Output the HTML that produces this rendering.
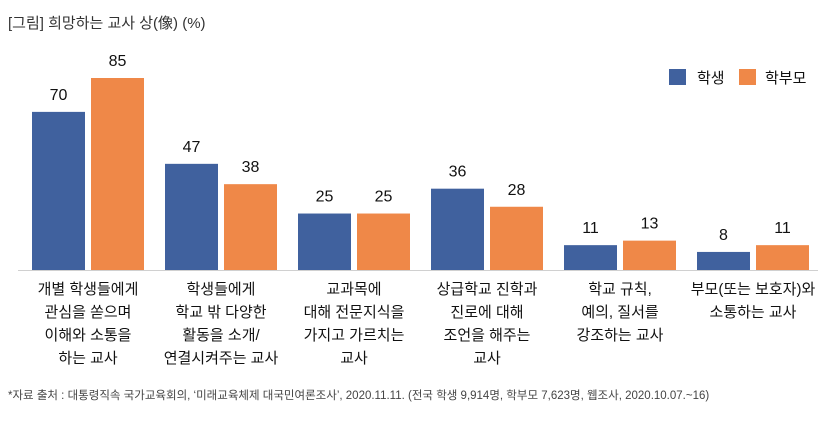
<!DOCTYPE html>
<html><head><meta charset="utf-8"><style>
body{margin:0;background:#fff;width:835px;height:419px;overflow:hidden;font-family:"Liberation Sans","Noto Sans CJK KR",sans-serif;}
svg text{font-family:"Liberation Sans","Noto Sans CJK KR",sans-serif;}
</style></head><body>
<svg width="835" height="419">
<text x="8" y="28" font-size="15" fill="#333">[그림] 희망하는 교사 상(像) (%)</text>
<g>
<rect x="669" y="69" width="17" height="16" fill="#40619e"/>
<text x="697" y="83" font-size="15" fill="#111">학생</text>
<rect x="739" y="69" width="17" height="16" fill="#ef8848"/>
<text x="765" y="83" font-size="15" fill="#111">학부모</text>
</g>
<line x1="18" y1="270.5" x2="818" y2="270.5" stroke="#d0d0d0"/>
<g id="bars"></g>
<text x="8" y="399" font-size="11.5" fill="#444">*자료 출처 : 대통령직속 국가교육회의, ‘미래교육체제 대국민여론조사’, 2020.11.11. (전국 학생 9,914명, 학부모 7,623명, 웹조사, 2020.10.07.~16)</text>
</svg>
<script>
const categories=[["개별 학생들에게","관심을 쏟으며","이해와 소통을","하는 교사"],["학생들에게","학교 밖 다양한","활동을 소개/","연결시켜주는 교사"],["교과목에","대해 전문지식을","가지고 가르치는","교사"],["상급학교 진학과","진로에 대해","조언을 해주는","교사"],["학교 규칙,","예의, 질서를","강조하는 교사"],["부모(또는 보호자)와","소통하는 교사"]];
const studentValues=[70,47,25,36,11,8];
const parentValues=[85,38,25,28,13,11];
const svg=document.querySelector('svg');
const g=document.getElementById('bars');
const NS='http://www.w3.org/2000/svg';
const base=270, scale=192/85, groupW=133, x0=32, bw=53, gap=6;
const yPos=v=>base-v*scale;
function mk(tag,attrs){const e=document.createElementNS(NS,tag);for(const k in attrs)e.setAttribute(k,attrs[k]);return e;}
categories.forEach((lines,i)=>{
  const gx=x0+i*groupW;
  [[studentValues,'#40619e',0,'student'],[parentValues,'#ef8848',bw+gap,'parent']].forEach(([arr,col,off,nm])=>{
    const v=arr[i];
    const r=mk('rect',{x:gx+off,y:yPos(v),width:bw,height:v*scale,fill:col});
    
    
    g.appendChild(r);
    const t=mk('text',{x:gx+off+bw/2,y:yPos(v)-12,'font-size':16,'text-anchor':'middle',fill:'#111'});
    t.textContent=v;
    
    
    g.appendChild(t);
  });
  lines.forEach((ln,j)=>{
    const t=mk('text',{x:gx+bw+gap/2,y:294+j*23,'font-size':15,'text-anchor':'middle',fill:'#111'});
    t.textContent=ln;
    
    
    g.appendChild(t);
  });
});
</script>
</body></html>
